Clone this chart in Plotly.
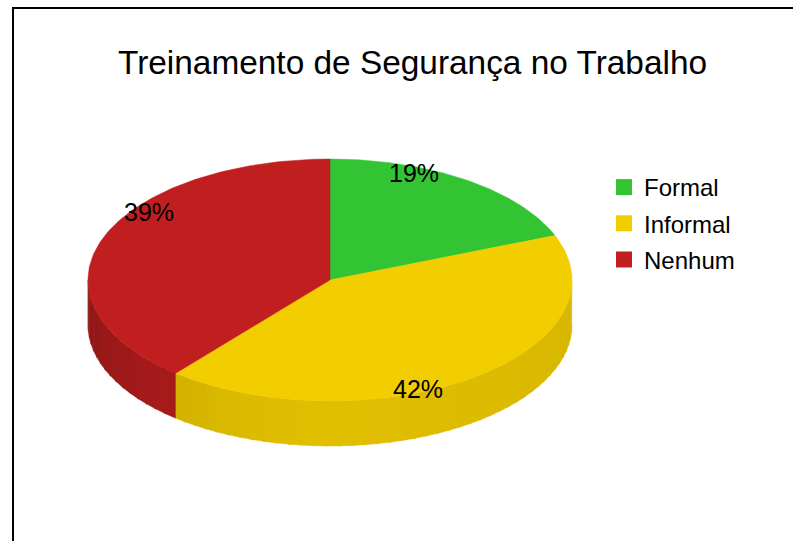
import math
import plotly.graph_objects as go

# ---- data ----
categories = ["Formal", "Informal", "Nenhum"]
percent_values = [19, 42, 39]
colors = ["#33C433", "#F2CD00", "#C11F1F"]
title_text = "Treinamento de Segurança no Trabalho"

# ---- geometry (pixel space) ----
W, H = 793, 541
CX, CY = 330, 280
RX, RY = 242, 121
DEPTH = 45
FONT = "Liberation Sans, Arial, sans-serif"


def pt(theta_deg, dy=0.0):
    t = math.radians(theta_deg)
    return CX + RX * math.sin(t), CY - RY * math.cos(t) + dy


def hex_to_rgb(h):
    h = h.lstrip("#")
    return tuple(int(h[i:i + 2], 16) for i in (0, 2, 4))


def shade(hexcol, m):
    r, g, b = hex_to_rgb(hexcol)
    return "rgb(%d,%d,%d)" % (min(255, r * m), min(255, g * m), min(255, b * m))


def light(theta):
    m = 0.93
    if theta > 180:
        m -= 0.20 * ((theta - 180) / 90) ** 1.5
    else:
        m -= 0.04 * ((180 - theta) / 90)
    return m


fig = go.Figure()

total = sum(percent_values)
starts, ends = [], []
acc = 0.0
for v in percent_values:
    starts.append(acc / total * 360)
    acc += v
    ends.append(acc / total * 360)

# side walls (visible front half: 90..270 deg)
for i in range(len(categories)):
    a0, a1 = max(starts[i], 90), min(ends[i], 270)
    if a1 <= a0:
        continue
    n = max(1, int((a1 - a0) / 3))
    step = (a1 - a0) / n
    for k in range(n):
        s0 = a0 + k * step
        s1 = min(a1, s0 + step + 0.6)
        sub = [s0 + (s1 - s0) * j / 4 for j in range(5)]
        xs = [pt(a)[0] for a in sub] + [pt(a, DEPTH)[0] for a in reversed(sub)]
        ys = [pt(a)[1] for a in sub] + [pt(a, DEPTH)[1] for a in reversed(sub)]
        col = shade(colors[i], light((s0 + s1) / 2))
        fig.add_trace(go.Scatter(x=xs, y=ys, fill="toself", mode="lines",
                                 line=dict(width=0.5, color=col), fillcolor=col,
                                 hoverinfo="skip", showlegend=False))

# top faces
for i in range(len(categories)):
    n = 120
    angs = [starts[i] + (ends[i] - starts[i]) * j / n for j in range(n + 1)]
    xs = [CX] + [pt(a)[0] for a in angs] + [CX]
    ys = [CY] + [pt(a)[1] for a in angs] + [CY]
    fig.add_trace(go.Scatter(x=xs, y=ys, fill="toself", mode="lines",
                             line=dict(width=0.5, color=colors[i]), fillcolor=colors[i],
                             hoverinfo="skip", showlegend=False))

# legend entries
for i, c in enumerate(categories):
    fig.add_trace(go.Scatter(x=[None], y=[None], mode="markers", name=c,
                             legendgroup=c,
                             marker=dict(symbol="square", size=16, color=colors[i]),
                             showlegend=True))

# data labels (inner ellipse at each slice's mid angle, with a perspective term)
annotations = []
for i, v in enumerate(percent_values):
    mid = math.radians((starts[i] + ends[i]) / 2)
    c = math.cos(mid)
    lx = CX - 15 + RX * 0.727 * math.sin(mid)
    ly = CY - 28 - RY * 1.095 * c + 45 * c * c
    annotations.append(dict(x=lx, y=ly, xref="x", yref="y", text="%d%%" % v,
                            showarrow=False, font=dict(size=25, color="black", family=FONT),
                            xanchor="center", yanchor="middle"))

annotations.append(dict(x=412, y=62, xref="x", yref="y", text=title_text, showarrow=False,
                        font=dict(size=33.4, color="black", family=FONT),
                        xanchor="center", yanchor="middle"))

fig.update_layout(
    width=W, height=H,
    margin=dict(l=0, r=0, t=0, b=0),
    paper_bgcolor="white", plot_bgcolor="white",
    xaxis=dict(range=[0, W], visible=False, fixedrange=True),
    yaxis=dict(range=[H, 0], visible=False, fixedrange=True),
    showlegend=True,
    legend=dict(x=(604) / W, y=1 - 165 / H, xanchor="left", yanchor="top",
                font=dict(size=24, color="black", family=FONT),
                itemsizing="trace", tracegroupgap=2, bgcolor="rgba(0,0,0,0)"),
    annotations=annotations,
    shapes=[dict(type="rect", xref="x", yref="y", x0=13, y0=8, x1=W + 20, y1=H + 20,
                 line=dict(color="black", width=2), fillcolor="rgba(0,0,0,0)")],
    font=dict(family=FONT),
)

fig.write_html(
    "out.html",
    config={"displayModeBar": False},
    post_script="document.body.style.margin='0';document.body.style.overflow='hidden';",
)
